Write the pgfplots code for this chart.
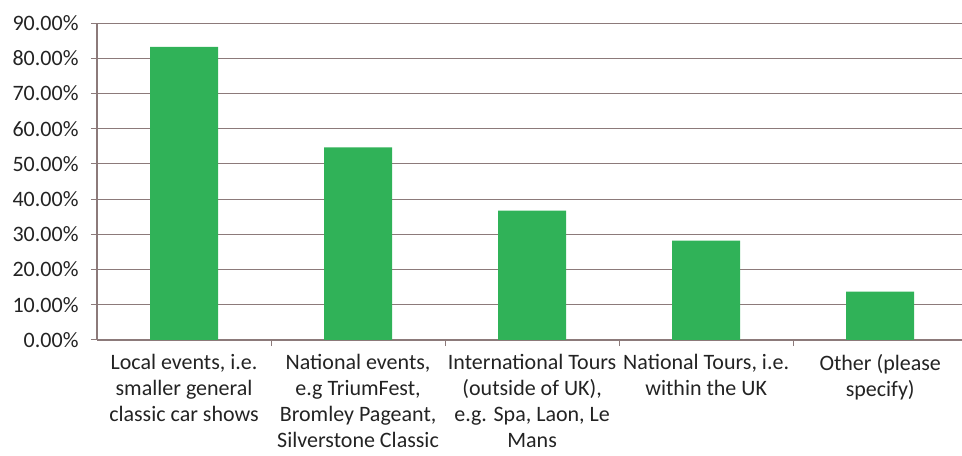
\documentclass[border=0pt]{standalone}
\usepackage{fontspec}
\setmainfont{Carlito}
\usepackage{pgfplots}
\pgfplotsset{compat=1.18}
\definecolor{bargreen}{RGB}{48,178,88}
\definecolor{gridbrown}{RGB}{140,122,122}
\definecolor{labelgray}{RGB}{35,35,35}
\begin{document}
\begin{tikzpicture}
\useasboundingbox (0,0) rectangle (962bp,456bp);
\begin{axis}[
  at={(97bp,116bp)}, anchor=south west,
  scale only axis,
  width=865bp, height=317bp,
  ybar, bar width=68bp,
  xmin=-0.5, xmax=4.47,
  ymin=0, ymax=90,
  ytick={0,10,...,90},
  xtick={0,...,4},
  minor xtick={0.5,1.5,2.5,3.5},
  xticklabels={
    {Local events, i.e.\\smaller general\\classic car shows},
    {National events,\\e.g TriumFest,\\Bromley Pageant,\\Silverstone Classic},
    {International Tours\\(outside of UK),\\e.g. Spa, Laon, Le\\Mans},
    {National Tours, i.e.\\within the UK},
    {Other (please\\specify)}},
  /pgf/number format/assume math mode=true,
  yticklabel={\pgfmathprintnumber[fixed,fixed zerofill,precision=2]{\tick}\%},
  axis lines*=left,
  axis line style={gridbrown, line width=1.3bp},
  ymajorgrids,
  grid style={gridbrown, line width=1bp},
  tick align=outside,
  major tick length=6bp,
  minor tick length=6bp,
  major x tick style={draw=none},
  tick style={gridbrown, line width=1bp},
  every tick label/.append style={font=\fontsize{22bp}{26bp}\selectfont, text=labelgray},
  xticklabel style={align=center, yshift=-5bp},
  yticklabel style={xshift=-9bp},
]
\addplot[fill=bargreen, draw=none] coordinates {
  (0,83.2) (1,54.7) (2,36.7) (3,28.2) (4,13.7)
};
\end{axis}
\end{tikzpicture}
\end{document}
